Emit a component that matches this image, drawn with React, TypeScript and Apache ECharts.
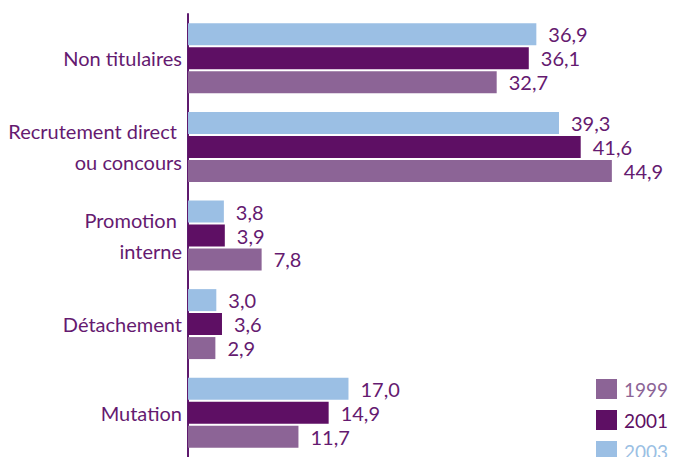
import React, { useEffect, useRef } from "react";
import * as echarts from "echarts";

const categories = [
  "Non titulaires",
  "Recrutement direct \nou concours",
  "Promotion \ninterne",
  "Détachement",
  "Mutation",
];
const years = ["1999", "2001", "2003"];
const values1999 = [32.7, 44.9, 7.8, 2.9, 11.7];
const values2001 = [36.1, 41.6, 3.9, 3.6, 14.9];
const values2003 = [36.9, 39.3, 3.8, 3.0, 17.0];

const colors: Record<string, string> = {
  "1999": "#8C6496",
  "2001": "#5E0F64",
  "2003": "#9BBFE4",
};
const textColor = "#651A70";
const font = "Lato, 'Open Sans', sans-serif";

const fmt = (v: number) => v.toFixed(1).replace(".", ",");

export default function App() {
  const ref = useRef<HTMLDivElement>(null);
  useEffect(() => {
    if (!ref.current) return;
    const chart = echarts.init(ref.current, undefined, { renderer: "svg" });
    const mk = (name: string, data: number[]) => ({
      name,
      type: "bar",
      data,
      barWidth: 22,
      barGap: "9%",
      itemStyle: { color: colors[name] },
      label: {
        show: true,
        position: "right",
        distance: 12,
        color: textColor,
        fontSize: 20,
        fontFamily: font,
        formatter: (p: any) => fmt(p.value),
      },
    });
    chart.setOption({
      animation: false,
      grid: { left: 188, right: 14, top: 14, bottom: -2, containLabel: false },
      xAxis: { type: "value", min: 0, max: 50, show: false },
      yAxis: {
        type: "category",
        inverse: true,
        data: categories,
        axisLine: { show: true, lineStyle: { color: "#5E1A6E", width: 2 } },
        axisTick: { show: false },
        axisLabel: {
          margin: 6,
          color: textColor,
          fontSize: 20,
          lineHeight: 31,
          fontFamily: font,
          align: "right",
        },
        splitLine: { show: false },
      },
      legend: {
        orient: "vertical",
        left: 596,
        top: 379,
        height: 120,
        padding: 0,
        itemWidth: 21,
        itemHeight: 20,
        itemGap: 11,
        icon: "rect",
        textStyle: { fontSize: 19, fontFamily: font, padding: [0, 0, 0, 2] },
        data: years.map((y) => ({ name: y, textStyle: { color: colors[y] } })),
      },
      series: [mk("2003", values2003), mk("2001", values2001), mk("1999", values1999)],
    });
    return () => chart.dispose();
  }, []);
  return (
    <div
      ref={ref}
      style={{ position: "absolute", left: 0, top: 0, width: 674, height: 457, background: "#fff" }}
    />
  );
}
